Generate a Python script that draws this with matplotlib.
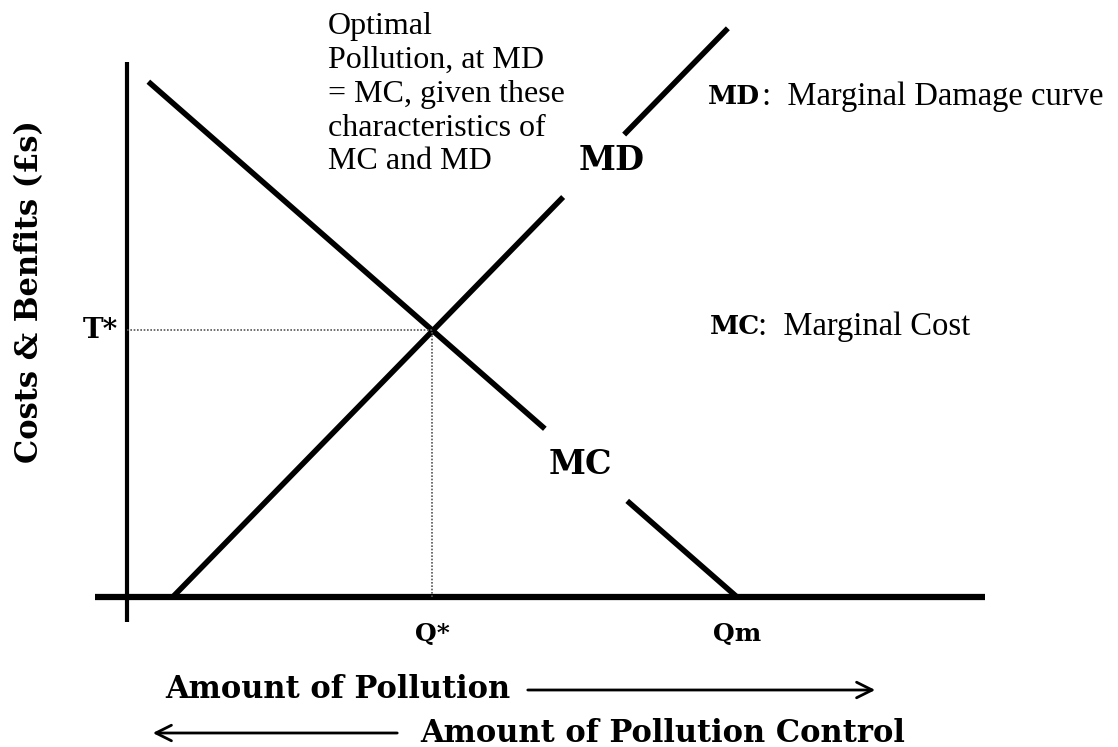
import matplotlib.pyplot as plt
import numpy as np

# curve data (quantity, £s) -- gaps where the curve labels sit
mc_x = [0.35, 6.85, np.nan, 8.2, 10.0]
mc_y = [9.65, 3.15, np.nan, 1.8, 0.0]
md_x = [0.75, 7.15, np.nan, 8.15, 9.85]
md_y = [0.0, 7.49, np.nan, 8.66, 10.65]

q_star = 5.0
t_star = 5.0
q_m = 10.0

tick_labels = ['Q*', 'Qm']
tick_pos = [q_star, q_m]

W, H = 1118, 747
sx, sy = 61.0, 53.4   # px per unit
ox, oy = 127, 597     # origin in px

fig = plt.figure(figsize=(W / 100, H / 100), dpi=100)
ax = fig.add_axes([0, 0, 1, 1])
ax.set_xlim(-ox / sx, (W - ox) / sx)
ax.set_ylim(-(H - oy) / sy, oy / sy)
ax.axis('off')

def fx(px):
    return px / W

def fy(py):
    return 1 - py / H

serif = 'Liberation Serif'
bold = 'DejaVu Serif'

# axes
ax.plot([0, 0], [-0.47, 10.02], color='black', lw=3, solid_capstyle='butt')
ax.plot([-0.52, 14.07], [0, 0], color='black', lw=4.5, solid_capstyle='butt')

# curves
ax.plot(mc_x, mc_y, color='black', lw=4, solid_capstyle='butt')
ax.plot(md_x, md_y, color='black', lw=4, solid_capstyle='butt')

# dotted guides
ax.plot([0, q_star], [t_star, t_star], color='#555555', lw=1.2, ls=(0, (1, 1)))
ax.plot([q_star, q_star], [0, t_star], color='#555555', lw=1.2, ls=(0, (1, 1)))

# labels
for lab, xp in zip(tick_labels, tick_pos):
    ax.text(xp, -0.7, lab, ha='center', va='center', family=bold,
            fontweight='bold', fontsize=18)
ax.text(-0.15, t_star, 'T*', ha='right', va='center', family=bold,
        fontweight='bold', fontsize=20)

fig.text(fx(30), fy(292), 'Costs & Benfits (£s)', rotation=90, ha='center',
         va='center', family=bold, fontweight='bold', fontsize=22)

fig.text(fx(328), fy(12), 'Optimal\nPollution, at MD\n= MC, given these\n'
         'characteristics of\nMC and MD', ha='left', va='top', family=serif,
         fontsize=23, linespacing=1.22)

fig.text(fx(612), fy(160), 'MD', ha='center', va='center', family=bold,
         fontweight='bold', fontsize=24)
fig.text(fx(580), fy(465), 'MC', ha='center', va='center', family=bold,
         fontweight='bold', fontsize=24)

fig.text(fx(708), fy(97), 'MD', ha='left', va='center', family=bold,
         fontweight='bold', fontsize=19)
fig.text(fx(762), fy(97), ':  Marginal Damage curve', ha='left', va='center',
         family=serif, fontsize=23.5)
fig.text(fx(710), fy(327), 'MC', ha='left', va='center', family=bold,
         fontweight='bold', fontsize=19)
fig.text(fx(758), fy(327), ':  Marginal Cost', ha='left', va='center',
         family=serif, fontsize=23.5)

# pollution / control arrows
fig.text(fx(165), fy(690), 'Amount of Pollution', ha='left', va='center',
         family=bold, fontweight='bold', fontsize=22)
ax.annotate('', xy=((878 - ox) / sx, (oy - 690) / sy),
            xytext=((525 - ox) / sx, (oy - 690) / sy),
            arrowprops=dict(arrowstyle='->', lw=2, color='black',
                            mutation_scale=28))
fig.text(fx(420), fy(733), 'Amount of Pollution Control', ha='left',
         va='center', family=bold, fontweight='bold', fontsize=22)
ax.annotate('', xy=((150 - ox) / sx, (oy - 733) / sy),
            xytext=((400 - ox) / sx, (oy - 733) / sy),
            arrowprops=dict(arrowstyle='->', lw=2, color='black',
                            mutation_scale=28))

fig.savefig('out.png', dpi=100)
